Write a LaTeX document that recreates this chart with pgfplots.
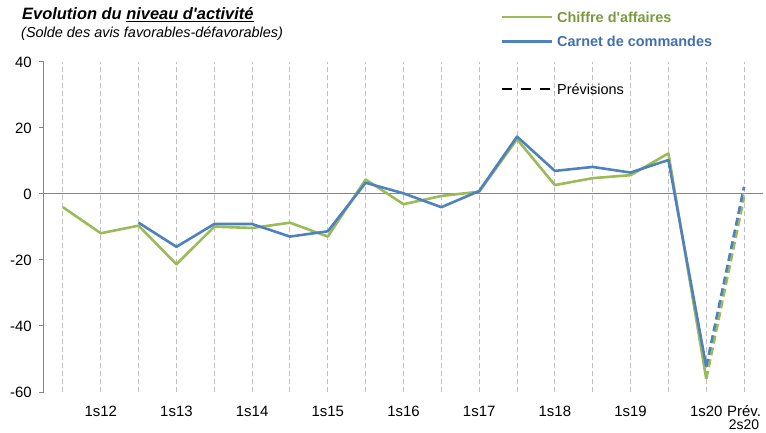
\documentclass[border=0pt]{standalone}
\usepackage{fontspec}
\setmainfont{Liberation Sans}
\usepackage{pgfplots}
\usepackage{pgfplotstable}
\pgfplotsset{compat=1.18}
\definecolor{cgreen}{HTML}{9BBB59}
\definecolor{cblue}{HTML}{4F81BD}
\definecolor{tgreen}{HTML}{7A9A3E}
\definecolor{tblue}{HTML}{4270AE}
\definecolor{axgray}{HTML}{868686}
\definecolor{gridgray}{HTML}{BFBFBF}

\pgfplotstableread{
x y
0 -4.0
1 -11.9
2 -9.6
3 -21.3
4 -9.9
5 -10.3
6 -8.7
7 -12.9
8 4.4
9 -3.1
10 -0.6
11 0.7
12 16.6
13 2.7
14 4.8
15 5.7
16 12.3
17 -56.0
}\greensolid
\pgfplotstableread{
x y
17 -56.0
18 -1.0
}\greendash
\pgfplotstableread{
x y
2 -8.7
3 -16.0
4 -9.1
5 -9.1
6 -12.9
7 -11.3
8 3.4
9 0.2
10 -4.0
11 0.9
12 17.4
13 7.0
14 8.2
15 6.5
16 10.3
17 -52.3
}\bluesolid
\pgfplotstableread{
x y
17 -52.3
18 2.2
}\bluedash

\begin{document}
\begin{tikzpicture}
\path[use as bounding box] (0bp,0bp) rectangle (766bp,433bp);
\begin{axis}[
  at={(44bp,41bp)}, anchor=south west,
  scale only axis, width=719bp, height=330bp,
  xmin=-0.5, xmax=18.5, ymin=-60, ymax=40,
  axis x line*=bottom, axis y line*=left,
  x axis line style={draw=none},
  y axis line style={axgray, line width=1bp},
  xtick={0,...,18},
  xticklabels={,1s12,,1s13,,1s14,,1s15,,1s16,,1s17,,1s18,,1s19,,1s20,Prév.},
  x tick style={draw=none},
  xmajorgrids=true,
  x grid style={gridgray, line width=1bp, dash pattern=on 4.5bp off 3.5bp},
  ytick={-60,-40,-20,0,20,40},
  yticklabels={-60,-40,-20,0,20,40},
  y tick style={axgray, line width=1bp},
  tick align=outside,
  major tick length=5bp,
  xticklabel style={font=\fontsize{15}{15}\selectfont, anchor=base, inner sep=0pt, yshift=-19.5bp},
  yticklabel style={font=\fontsize{15}{15}\selectfont, anchor=east, inner sep=0pt, xshift=-7bp},
  extra x ticks={18},
  extra x tick labels={2s20},
  extra x tick style={xticklabel style={yshift=-13bp, font=\fontsize{14}{14}\selectfont}},
  extra y ticks={0},
  extra y tick labels={},
  extra y tick style={ymajorgrids=true, major grid style={axgray, solid, line width=1bp}},
  clip=false,
]
\pgfplotsinvokeforeach{0,...,18,18.5}{
  \draw[axgray, line width=1bp] (axis cs:#1,0) ++(0,-3bp) -- ++(0,6bp);
}
\addplot[cgreen, line width=2.6bp, line join=round] table[x=x,y=y] {\greensolid};
\addplot[cgreen, line width=2.6bp, dash pattern=on 8bp off 4bp] table[x=x,y=y] {\greendash};
\addplot[cblue, line width=2.6bp, line join=round] table[x=x,y=y] {\bluesolid};
\addplot[cblue, line width=2.6bp, dash pattern=on 8bp off 4bp] table[x=x,y=y] {\bluedash};
\end{axis}
\node[anchor=base west, inner sep=0pt] at (22bp,413bp) {\fontsize{16.5}{16.5}\selectfont\bfseries\itshape Evolution du \underline{niveau d\textquotesingle activité}};
\node[anchor=base west, inner sep=0pt] at (21bp,395bp) {\fontsize{14.5}{14.5}\selectfont\itshape (Solde des avis favorables-défavorables)};
\draw[cgreen, line width=2.6bp] (502bp,416bp) -- (552bp,416bp);
\node[anchor=base west, inner sep=0pt, text=tgreen] at (557bp,410.3bp) {\fontsize{14.5}{14.5}\selectfont\bfseries Chiffre d\textquotesingle affaires};
\draw[cblue, line width=2.6bp] (502bp,391.3bp) -- (552bp,391.3bp);
\node[anchor=base west, inner sep=0pt, text=tblue] at (557bp,386.3bp) {\fontsize{14.5}{14.5}\selectfont\bfseries Carnet de commandes};
\draw[black, line width=2.6bp, dash pattern=on 10bp off 9bp] (502bp,344bp) -- (552bp,344bp);
\node[anchor=base west, inner sep=0pt] at (557bp,338.7bp) {\fontsize{14.5}{14.5}\selectfont Prévisions};
\end{tikzpicture}
\end{document}
